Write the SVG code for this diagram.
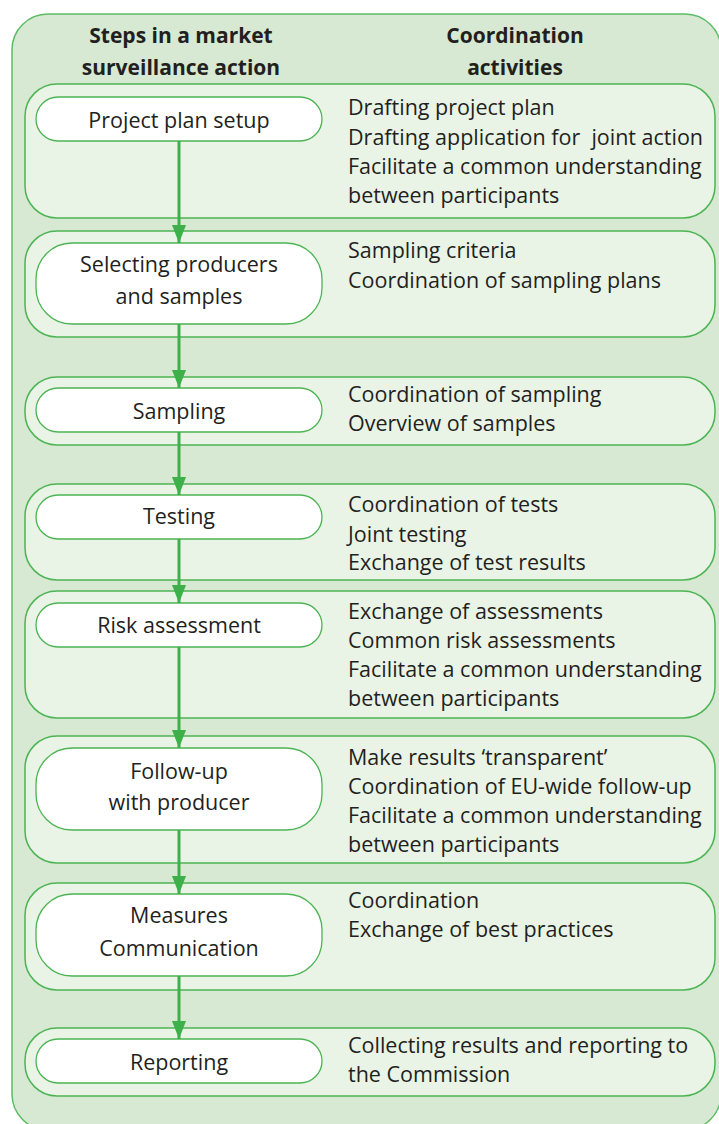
<svg xmlns="http://www.w3.org/2000/svg" width="719" height="1124" viewBox="0 0 719 1124">
<defs>
<style>
.outer{fill:#d7e9d2;stroke:#5dbb63;stroke-width:1.5}
.row{fill:#e9f4e7;stroke:#4cb453;stroke-width:1.5}
.pill{fill:#ffffff;stroke:#4cb453;stroke-width:1.3}
.hd{font-family:"Open Sans","Liberation Sans",sans-serif;font-weight:bold;font-size:21px;fill:#231f20;text-anchor:middle}
.st{font-family:"Open Sans","Liberation Sans",sans-serif;font-size:21.5px;fill:#231f20;text-anchor:middle}
.ac{font-family:"Open Sans","Liberation Sans",sans-serif;font-size:21.5px;fill:#231f20}
.arr{stroke:#3db049;stroke-width:3;fill:none;marker-end:url(#ah)}
</style>
<marker id="ah" markerUnits="userSpaceOnUse" markerWidth="18" markerHeight="14" refX="18" refY="7" orient="auto" viewBox="0 0 18 14">
<path d="M0,0 L18,7 L0,14 Z" fill="#3db049"/>
</marker>
</defs>
<rect class="outer" x="12" y="14" width="709" height="1116" rx="36"/>
<g id="header">
<text class="hd" x="181" y="43">Steps in a market</text>
<text class="hd" x="181" y="75">surveillance action</text>
<text class="hd" x="515" y="43">Coordination</text>
<text class="hd" x="515" y="75">activities</text>
</g>
<g id="row1">
<rect class="row" x="25" y="84" width="690" height="134" rx="32"/>
<rect class="pill" x="36" y="97" width="286" height="44" rx="22"/>
<text class="st" x="179" y="128">Project plan setup</text>
<text class="ac" x="348" y="115">Drafting project plan</text>
<text class="ac" x="348" y="145" xml:space="preserve">Drafting application for  joint action</text>
<text class="ac" x="348" y="174">Facilitate a common understanding</text>
<text class="ac" x="348" y="203">between participants</text>
</g>
<g id="row2">
<rect class="row" x="25" y="231" width="690" height="106" rx="32"/>
<rect class="pill" x="36" y="243" width="286" height="81" rx="36"/>
<text class="st" x="179" y="272">Selecting producers</text>
<text class="st" x="179" y="304">and samples</text>
<text class="ac" x="348" y="258">Sampling criteria</text>
<text class="ac" x="348" y="288">Coordination of sampling plans</text>
</g>
<g id="row3">
<rect class="row" x="25" y="377" width="690" height="68" rx="32"/>
<rect class="pill" x="36" y="388" width="286" height="44" rx="22"/>
<text class="st" x="179" y="419">Sampling</text>
<text class="ac" x="348" y="402">Coordination of sampling</text>
<text class="ac" x="348" y="431">Overview of samples</text>
</g>
<g id="row4">
<rect class="row" x="25" y="484" width="690" height="96" rx="32"/>
<rect class="pill" x="36" y="495" width="286" height="44" rx="22"/>
<text class="st" x="179" y="524">Testing</text>
<text class="ac" x="348" y="512">Coordination of tests</text>
<text class="ac" x="348" y="542">Joint testing</text>
<text class="ac" x="348" y="570">Exchange of test results</text>
</g>
<g id="row5">
<rect class="row" x="25" y="591" width="690" height="127" rx="32"/>
<rect class="pill" x="36" y="603" width="286" height="44" rx="22"/>
<text class="st" x="179" y="633">Risk assessment</text>
<text class="ac" x="348" y="619">Exchange of assessments</text>
<text class="ac" x="348" y="648">Common risk assessments</text>
<text class="ac" x="348" y="677">Facilitate a common understanding</text>
<text class="ac" x="348" y="706">between participants</text>
</g>
<g id="row6">
<rect class="row" x="25" y="736" width="690" height="127" rx="32"/>
<rect class="pill" x="36" y="748" width="286" height="82" rx="36"/>
<text class="st" x="179" y="779">Follow-up</text>
<text class="st" x="179" y="810">with producer</text>
<text class="ac" x="348" y="765">Make results ‘transparent’</text>
<text class="ac" x="348" y="794">Coordination of EU-wide follow-up</text>
<text class="ac" x="348" y="823">Facilitate a common understanding</text>
<text class="ac" x="348" y="852">between participants</text>
</g>
<g id="row7">
<rect class="row" x="25" y="883" width="690" height="107" rx="32"/>
<rect class="pill" x="36" y="894" width="286" height="82" rx="36"/>
<text class="st" x="179" y="923">Measures</text>
<text class="st" x="179" y="956">Communication</text>
<text class="ac" x="348" y="908">Coordination</text>
<text class="ac" x="348" y="937">Exchange of best practices</text>
</g>
<g id="row8">
<rect class="row" x="25" y="1028" width="690" height="68" rx="32"/>
<rect class="pill" x="36" y="1039" width="286" height="44" rx="22"/>
<text class="st" x="179" y="1070">Reporting</text>
<text class="ac" x="348" y="1053">Collecting results and reporting to</text>
<text class="ac" x="348" y="1082">the Commission</text>
</g>
<g id="connectors">
<line class="arr" x1="179" y1="141" x2="179" y2="243"/>
<line class="arr" x1="179" y1="324" x2="179" y2="388"/>
<line class="arr" x1="179" y1="432" x2="179" y2="495"/>
<line class="arr" x1="179" y1="539" x2="179" y2="603"/>
<line class="arr" x1="179" y1="647" x2="179" y2="748"/>
<line class="arr" x1="179" y1="830" x2="179" y2="894"/>
<line class="arr" x1="179" y1="976" x2="179" y2="1039"/>
</g>
</svg>
